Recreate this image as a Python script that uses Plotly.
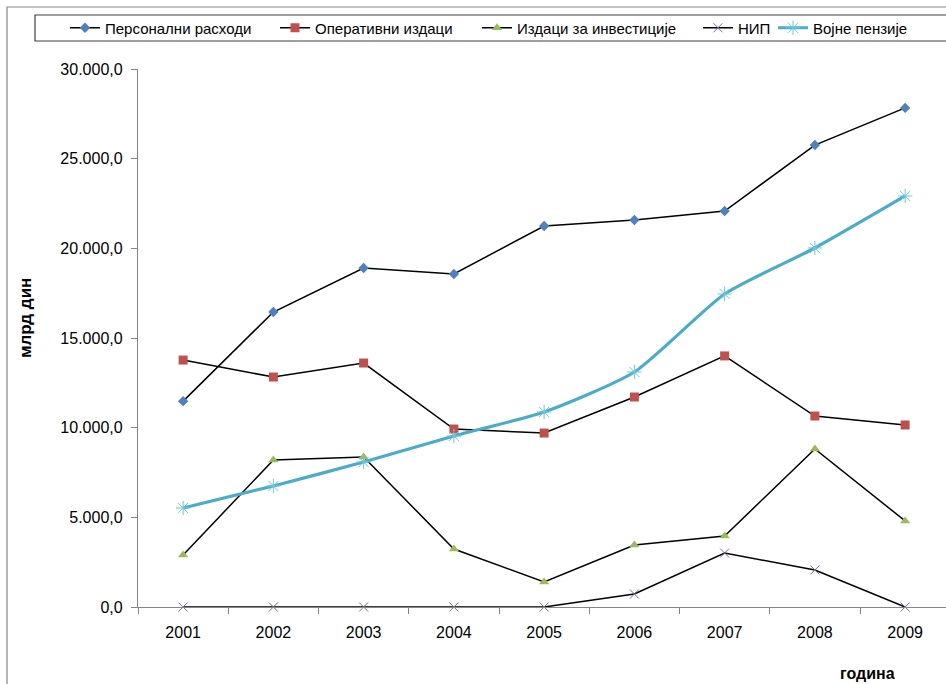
import plotly.graph_objects as go

years = ["2001", "2002", "2003", "2004", "2005", "2006", "2007", "2008", "2009"]
personalni = [11480, 16450, 18900, 18570, 21245, 21580, 22080, 25760, 27830]
operativni = [13770, 12825, 13605, 9925, 9700, 11710, 14000, 10650, 10150]
investicije = [2900, 8200, 8365, 3235, 1395, 3460, 3960, 8810, 4800]
nip = [0, 0, 0, 0, 0, 725, 3010, 2065, 0]
penzije = [5520, 6750, 8085, 9535, 10875, 13105, 17455, 20020, 22920]

names = ["Персонални расходи", "Оперативни издаци", "Издаци за инвестиције", "НИП", "Војне пензије"]
legend_x = [65, 275, 477, 698, 773]  # container px of legend item starts

W, H = 946, 684
L, R, T, B = 138, 0, 69, 77
PW, PH = W - L - R, H - T - B

def px2paper_x(px):
    return (px - L) / PW

def px2paper_y(py):
    return (H - B - py) / PH

fig = go.Figure()

series = [
    (personalni, dict(symbol="diamond", color="#4F81BD", size=8), dict(color="black", width=1.5), "linear"),
    (operativni, dict(symbol="square", color="#C0504D", size=9), dict(color="black", width=1.5), "linear"),
    (investicije, dict(symbol="triangle-up", color="#9BBB59", size=9), dict(color="black", width=1.5), "linear"),
    (nip, dict(symbol="x-thin-open", color="#8064A2", size=9, line=dict(width=1, color="#9E8FC4")), dict(color="black", width=1.5), "linear"),
    (penzije, dict(symbol="asterisk-open", color="#6FC6DE", size=12, line=dict(width=1, color="#6FC6DE")), dict(color="#4BACC6", width=3.2), "spline"),
]

for i, (vals, mk, ln, shape) in enumerate(series):
    lg = "legend" if i == 0 else f"legend{i+1}"
    ln = dict(ln)
    ln["shape"] = shape
    if shape == "spline":
        ln["smoothing"] = 0.6
    fig.add_trace(go.Scatter(
        x=years, y=vals, name=names[i], mode="lines+markers",
        marker=mk, line=ln, legend=lg, cliponaxis=False,
    ))

legend_common = dict(
    orientation="h", xref="container", yref="container",
    yanchor="middle", xanchor="left",
    font=dict(family="Liberation Sans, Arial, sans-serif", size=15, color="black"),
    bgcolor="rgba(0,0,0,0)", borderwidth=0, itemwidth=30, tracegroupgap=0,
)
layout_legends = {}
for i in range(5):
    key = "legend" if i == 0 else f"legend{i+1}"
    d = dict(legend_common)
    d["x"] = legend_x[i] / W
    d["y"] = 1 - 28 / H
    layout_legends[key] = d

fig.update_layout(
    width=W, height=H,
    margin=dict(l=L, r=R, t=T, b=B, pad=0),
    paper_bgcolor="white", plot_bgcolor="white",
    separators=",.",
    showlegend=True,
    font=dict(family="Liberation Sans, Arial, sans-serif", size=16, color="black"),
    xaxis=dict(
        type="category", range=[-0.5, -0.5 + PW / 90.25],
        showgrid=False, zeroline=False,
        showline=True, linecolor="#868686", linewidth=1.3,
        ticks="outside", tickson="boundaries", ticklen=6, tickcolor="#868686",
        tickfont=dict(size=16), ticklabelstandoff=11,
    ),
    yaxis=dict(
        range=[0, 30000], tickvals=[0, 5000, 10000, 15000, 20000, 25000, 30000],
        tickformat=",.1f",
        showgrid=False, zeroline=False,
        showline=True, linecolor="#868686", linewidth=1.3,
        ticks="outside", ticklen=6, tickcolor="#868686",
        tickfont=dict(size=16), ticklabelstandoff=5,
    ),
    shapes=[
        dict(type="rect", xref="paper", yref="paper",
             x0=px2paper_x(7), x1=px2paper_x(990), y0=px2paper_y(720), y1=px2paper_y(7),
             line=dict(color="#868686", width=1.2), fillcolor="rgba(0,0,0,0)", layer="below"),
        dict(type="rect", xref="paper", yref="paper",
             x0=px2paper_x(35), x1=px2paper_x(990), y0=px2paper_y(41), y1=px2paper_y(15),
             line=dict(color="#404040", width=1.2), fillcolor="rgba(0,0,0,0)", layer="below"),
    ],
    annotations=[
        dict(text="<b>млрд дин</b>", textangle=-90, xref="paper", yref="paper",
             x=px2paper_x(25), y=px2paper_y(318), showarrow=False, xanchor="center", yanchor="middle",
             font=dict(size=17, color="black")),
        dict(text="<b>година</b>", xref="paper", yref="paper",
             x=px2paper_x(867), y=px2paper_y(673), showarrow=False, xanchor="center", yanchor="middle",
             font=dict(size=16, color="black")),
    ],
    **layout_legends,
)

fig.write_html("out.html")
